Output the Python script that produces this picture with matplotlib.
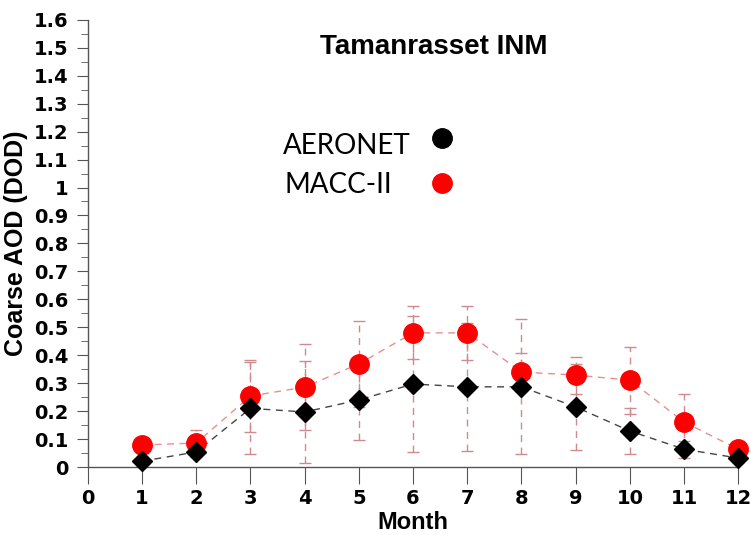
import numpy as np
import matplotlib
matplotlib.use("Agg")
import matplotlib.pyplot as plt
from matplotlib.ticker import MultipleLocator

months = [1, 2, 3, 4, 5, 6, 7, 8, 9, 10, 11, 12]
aeronet = [0.021, 0.054, 0.21, 0.197, 0.24, 0.297, 0.287, 0.287, 0.215, 0.129, 0.064, 0.032]
aeronet_err = [0.01, 0.018, 0.165, 0.183, 0.143, 0.243, 0.23, 0.241, 0.155, 0.083, 0.03, 0.01]
macc = [0.079, 0.086, 0.254, 0.286, 0.369, 0.48, 0.48, 0.34, 0.329, 0.311, 0.161, 0.064]
macc_err = [0.025, 0.046, 0.13, 0.155, 0.154, 0.095, 0.097, 0.068, 0.066, 0.12, 0.1, 0.02]

xticks = list(range(0, 13))
yticks = np.round(np.arange(0, 1.61, 0.1), 1)
ytick_labels = [f"{v:g}" for v in yticks]

err_color = "#cf8a8f"

fig = plt.figure(figsize=(7.51, 5.35), dpi=100)
ax = fig.add_axes([0.117, 0.127, 0.866, 0.836])

# error bars (dashed, pinkish)
for vals, errs in ((macc, macc_err), (aeronet, aeronet_err)):
    eb = ax.errorbar(months, vals, yerr=errs, fmt="none", ecolor=err_color,
                     elinewidth=1.0, capsize=4, capthick=1.0, zorder=2)
    for lc in eb[2]:
        lc.set_linestyle((0, (5, 4)))
        lc.set_clip_on(False)
    for cap in eb[1]:
        cap.set_clip_on(False)

ax.plot(months, macc, color="#e88f8f", ls=(0, (5, 4)), lw=1.0, zorder=3)
ax.plot(months, aeronet, color="#444444", ls=(0, (5, 4)), lw=1.0, zorder=3)
ax.plot(months, macc, "o", color="#ff0000", ms=14, mec="#ff0000", zorder=4, clip_on=False)
ax.plot(months, aeronet, "D", color="black", ms=10, zorder=5, clip_on=False)

ax.set_xlim(0, 12)
ax.set_ylim(0, 1.6)
ax.set_xticks(xticks)
ax.set_xticklabels([str(t) for t in xticks], fontsize=14, fontweight="bold")
ax.set_yticks(yticks)
ax.set_yticklabels(ytick_labels, fontsize=14, fontweight="bold")
ax.yaxis.set_minor_locator(MultipleLocator(0.05))

for side in ("top", "right"):
    ax.spines[side].set_visible(False)
for side in ("left", "bottom"):
    ax.spines[side].set_color("#555555")
    ax.spines[side].set_linewidth(1.0)

ax.tick_params(axis="y", which="major", direction="out", length=8, color="#555555", pad=6)
ax.tick_params(axis="y", which="minor", direction="out", length=5, color="#555555")
ax.tick_params(axis="x", which="major", direction="out", length=12, color="#555555", pad=4)

ax.set_xlabel("Month", fontsize=17, fontweight="bold", family="Liberation Sans", labelpad=2)
ax.set_ylabel("Coarse AOD (DOD)", fontsize=18, fontweight="bold", family="Liberation Sans", labelpad=4)

fig.text(0.577, 0.912, "Tamanrasset INM", fontsize=20, fontweight="bold",
         family="Liberation Sans", ha="center", va="center")

# legend-like labels
fig.text(0.377, 0.728, "AERONET", fontsize=20, family="Lato", ha="left", va="center")
fig.text(0.379, 0.654, "MACC-II", fontsize=20, family="Lato", ha="left", va="center")
fig.lines.append(plt.Line2D([0.589], [0.742], transform=fig.transFigure, marker="o",
                            ms=14, color="black", ls="none"))
fig.lines.append(plt.Line2D([0.589], [0.658], transform=fig.transFigure, marker="o",
                            ms=14, color="#ff0000", ls="none"))

fig.savefig("out.png", dpi=100)
